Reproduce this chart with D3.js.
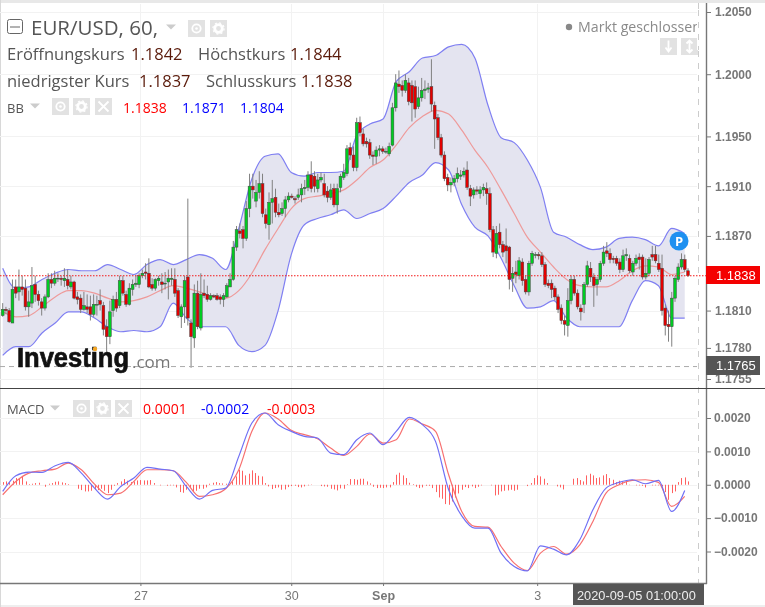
<!DOCTYPE html>
<html><head><meta charset="utf-8"><script src="https://cdn.jsdelivr.net/npm/d3@7"></script>
<style>html,body{margin:0;padding:0;background:#fff;overflow:hidden}svg{display:block;filter:blur(0.35px)}text{font-family:"Open Sans",sans-serif}.ax{font-family:"Liberation Sans",sans-serif;font-weight:700;fill:#777}</style></head>
<body><div id="c"></div><script>
const symbolTitle="EUR/USD, 60,";
const ohlcLabels=[["Eröffnungskurs","1.1842"],["Höchstkurs","1.1844"],["niedrigster Kurs","1.1837"],["Schlusskurs","1.1838"]];
const bbValues=["1.1838","1.1871","1.1804"];
const macdValues=["0.0001","-0.0002","-0.0003"];
const priceTicks=[1.2050,1.2000,1.1950,1.1910,1.1870,1.1810,1.1780,1.1755];
const macdTicks=[2,1,0,-1,-2];
const dateTicks=[[42,"27"],[88,"30"],[116,"Sep"],[163,"3"]];
const opens=[1.1806,1.1811,1.1810,1.1800,1.1829,1.1825,1.1829,1.1828,1.1813,1.1816,
1.1831,1.1823,1.1817,1.1812,1.1821,1.1835,1.1832,1.1836,1.1836,1.1834,
1.1835,1.1829,1.1833,1.1821,1.1820,1.1811,1.1813,1.1813,1.1807,1.1815,
1.1818,1.1814,1.1797,1.1789,1.1810,1.1819,1.1814,1.1834,1.1823,1.1815,
1.1827,1.1831,1.1831,1.1838,1.1841,1.1840,1.1831,1.1828,1.1834,1.1833,
1.1832,1.1833,1.1835,1.1835,1.1826,1.1805,1.1813,1.1837,1.1800,1.1788,
1.1824,1.1796,1.1824,1.1823,1.1819,1.1822,1.1822,1.1821,1.1819,1.1821,
1.1829,1.1835,1.1861,1.1874,1.1875,1.1868,1.1892,1.1910,1.1898,1.1905,
1.1912,1.1887,1.1879,1.1897,1.1901,1.1889,1.1888,1.1892,1.1899,1.1902,
1.1900,1.1901,1.1903,1.1908,1.1909,1.1919,1.1918,1.1908,1.1915,1.1912,
1.1906,1.1901,1.1908,1.1895,1.1909,1.1917,1.1920,1.1941,1.1935,1.1925,
1.1961,1.1952,1.1946,1.1945,1.1935,1.1934,1.1939,1.1940,1.1938,1.1936,
1.1943,1.1973,1.1992,1.1991,1.1987,1.1993,1.1991,1.1990,1.1974,1.1981,
1.1987,1.1988,1.1990,1.1975,1.1965,1.1949,1.1935,1.1917,1.1911,1.1913,
1.1916,1.1918,1.1919,1.1923,1.1908,1.1903,1.1907,1.1904,1.1907,1.1908,1.1904,
1.1875,1.1856,1.1873,1.1863,1.1862,1.1861,1.1836,1.1841,1.1838,1.1849,1.1835,
1.1825,1.1848,1.1855,1.1855,1.1854,1.1847,1.1832,1.1832,1.1828,1.1821,
1.1812,1.1802,1.1798,1.1818,1.1835,1.1824,1.1812,1.1815,1.1831,1.1844,
1.1837,1.1831,1.1835,1.1848,1.1858,1.1856,1.1852,1.1852,1.1849,1.1843,
1.1854,1.1852,1.1841,1.1848,1.1853,1.1853,1.1837,1.1840,1.1855,1.1855,
1.1848,1.1844,1.1812,1.1799,1.1797,1.1820,1.1835,1.1845,1.1851,1.1842];
const closes=[1.1811,1.1810,1.1801,1.1827,1.1824,1.1829,1.1827,1.1813,1.1817,1.1830,
1.1823,1.1818,1.1812,1.1821,1.1835,1.1832,1.1836,1.1836,1.1835,1.1836,
1.1830,1.1833,1.1820,1.1819,1.1811,1.1814,1.1811,1.1807,1.1815,1.1815,
1.1815,1.1795,1.1789,1.1809,1.1819,1.1812,1.1834,1.1824,1.1815,1.1828,
1.1831,1.1832,1.1838,1.1840,1.1840,1.1829,1.1828,1.1835,1.1836,1.1831,
1.1832,1.1836,1.1836,1.1824,1.1806,1.1813,1.1834,1.1804,1.1789,1.1824,
1.1797,1.1823,1.1822,1.1819,1.1822,1.1821,1.1819,1.1819,1.1822,1.1830,
1.1835,1.1861,1.1875,1.1872,1.1868,1.1892,1.1910,1.1907,1.1905,1.1912,
1.1888,1.1880,1.1897,1.1900,1.1889,1.1887,1.1892,1.1899,1.1902,1.1901,
1.1899,1.1903,1.1908,1.1909,1.1919,1.1908,1.1910,1.1915,1.1917,1.1903,
1.1901,1.1907,1.1895,1.1908,1.1918,1.1921,1.1940,1.1935,1.1925,1.1961,
1.1953,1.1944,1.1944,1.1935,1.1934,1.1939,1.1940,1.1938,1.1938,1.1942,
1.1973,1.1993,1.1990,1.1987,1.1995,1.1978,1.1977,1.1972,1.1981,1.1987,
1.1988,1.1989,1.1976,1.1964,1.1949,1.1935,1.1916,1.1911,1.1913,1.1916,
1.1920,1.1919,1.1922,1.1909,1.1902,1.1907,1.1906,1.1907,1.1909,1.1904,1.1875,
1.1857,1.1872,1.1863,1.1857,1.1858,1.1835,1.1840,1.1839,1.1850,1.1834,1.1825,
1.1848,1.1856,1.1855,1.1854,1.1847,1.1831,1.1830,1.1827,1.1821,1.1811,
1.1802,1.1799,1.1818,1.1835,1.1824,1.1813,1.1809,1.1831,1.1846,1.1837,
1.1830,1.1835,1.1848,1.1857,1.1856,1.1851,1.1851,1.1848,1.1843,1.1854,
1.1855,1.1842,1.1848,1.1852,1.1851,1.1837,1.1840,1.1851,1.1853,1.1850,
1.1843,1.1810,1.1798,1.1797,1.1820,1.1836,1.1845,1.1851,1.1843,1.1838];
const highs=[1.1816,1.1813,1.1812,1.1835,1.1835,1.1843,1.1838,1.1835,1.1826,1.1845,
1.1838,1.1826,1.1820,1.1823,1.1840,1.1840,1.1842,1.1840,1.1838,1.1844,
1.1843,1.1838,1.1834,1.1825,1.1823,1.1825,1.1823,1.1822,1.1823,1.1822,
1.1827,1.1817,1.1803,1.1818,1.1822,1.1825,1.1838,1.1838,1.1826,1.1832,
1.1835,1.1838,1.1840,1.1843,1.1848,1.1852,1.1836,1.1836,1.1838,1.1840,
1.1841,1.1843,1.1844,1.1844,1.1828,1.1815,1.1838,1.1900,1.1803,1.1831,
1.1834,1.1840,1.1835,1.1830,1.1824,1.1823,1.1824,1.1823,1.1824,1.1832,
1.1840,1.1866,1.1878,1.1880,1.1878,1.1898,1.1920,1.1920,1.1915,1.1922,
1.1920,1.1892,1.1905,1.1915,1.1908,1.1896,1.1897,1.1902,1.1905,1.1904,
1.1902,1.1908,1.1912,1.1915,1.1922,1.1930,1.1922,1.1920,1.1921,1.1920,
1.1910,1.1912,1.1912,1.1912,1.1920,1.1928,1.1943,1.1945,1.1942,1.1965,
1.1966,1.1956,1.1949,1.1948,1.1938,1.1942,1.1943,1.1942,1.1941,1.1945,
1.1977,1.2000,1.2003,1.1995,1.2000,1.1997,1.1995,1.1995,1.1990,1.1997,
1.1995,1.1993,1.2012,1.1978,1.1968,1.1952,1.1938,1.1920,1.1917,1.1919,
1.1925,1.1923,1.1925,1.1930,1.1911,1.1909,1.1910,1.1910,1.1912,1.1913,1.1909,
1.1878,1.1878,1.1880,1.1866,1.1876,1.1862,1.1845,1.1850,1.1853,1.1852,1.1838,
1.1850,1.1858,1.1857,1.1857,1.1857,1.1849,1.1835,1.1835,1.1830,1.1823,
1.1815,1.1806,1.1828,1.1838,1.1838,1.1827,1.1815,1.1833,1.1850,1.1849,
1.1840,1.1837,1.1850,1.1862,1.1865,1.1860,1.1854,1.1854,1.1852,1.1859,
1.1860,1.1855,1.1850,1.1855,1.1856,1.1855,1.1852,1.1853,1.1862,1.1862,
1.1855,1.1855,1.1815,1.1810,1.1825,1.1838,1.1848,1.1856,1.1855,1.1844];
const lows=[1.1805,1.1807,1.1800,1.1800,1.1820,1.1818,1.1822,1.1810,1.1805,1.1812,
1.1817,1.1814,1.1806,1.1810,1.1820,1.1828,1.1830,1.1833,1.1830,1.1829,
1.1827,1.1827,1.1819,1.1815,1.1808,1.1810,1.1808,1.1802,1.1805,1.1806,
1.1810,1.1790,1.1775,1.1783,1.1805,1.1809,1.1812,1.1822,1.1813,1.1814,
1.1822,1.1829,1.1828,1.1836,1.1835,1.1828,1.1826,1.1826,1.1830,1.1824,
1.1827,1.1819,1.1830,1.1821,1.1804,1.1796,1.1800,1.1798,1.1764,1.1780,
1.1795,1.1794,1.1820,1.1817,1.1818,1.1820,1.1818,1.1815,1.1813,1.1820,
1.1829,1.1834,1.1858,1.1868,1.1860,1.1866,1.1885,1.1900,1.1893,1.1900,
1.1885,1.1876,1.1867,1.1880,1.1885,1.1885,1.1886,1.1885,1.1897,1.1900,
1.1896,1.1899,1.1897,1.1903,1.1906,1.1905,1.1905,1.1905,1.1913,1.1901,
1.1897,1.1899,1.1893,1.1888,1.1905,1.1915,1.1918,1.1931,1.1922,1.1922,
1.1950,1.1942,1.1941,1.1932,1.1927,1.1928,1.1934,1.1936,1.1936,1.1934,
1.1942,1.1970,1.1985,1.1982,1.1985,1.1975,1.1962,1.1965,1.1972,1.1978,
1.1980,1.1985,1.1970,1.1940,1.1947,1.1933,1.1914,1.1906,1.1905,1.1910,
1.1913,1.1915,1.1917,1.1907,1.1894,1.1900,1.1903,1.1900,1.1902,1.1895,1.1873,
1.1853,1.1852,1.1860,1.1853,1.1848,1.1827,1.1825,1.1832,1.1835,1.1830,1.1823,
1.1822,1.1846,1.1852,1.1851,1.1845,1.1829,1.1828,1.1820,1.1818,1.1808,
1.1799,1.1790,1.1789,1.1815,1.1822,1.1811,1.1802,1.1808,1.1829,1.1833,
1.1813,1.1822,1.1833,1.1846,1.1853,1.1848,1.1848,1.1846,1.1840,1.1841,
1.1850,1.1840,1.1838,1.1846,1.1843,1.1835,1.1835,1.1838,1.1850,1.1848,
1.1841,1.1806,1.1790,1.1785,1.1781,1.1817,1.1833,1.1843,1.1841,1.1837];
// Bollinger bands and MACD lines, read every 4th slot of the 210-slot time grid
const bbUpper=[1.1844,1.1828,1.1829,1.1835,1.1840,1.1843,1.1842,1.1842,1.1847,1.1843,1.1839,1.1847,1.1851,1.1847,1.1851,1.1855,1.1852,1.1843,
1.1876,1.1916,1.1934,1.1936,1.1921,1.1918,1.1921,1.1921,1.1922,1.1951,1.1960,1.1964,1.1994,1.2002,1.2013,1.2015,1.2022,1.2024,1.2013,1.1975,
1.1949,1.1945,1.1931,1.1909,1.1873,1.1869,1.1863,1.1859,1.1861,1.1868,1.1869,1.1867,1.1862,1.1876,1.1872];
const bbLower=[1.1774,1.1781,1.1781,1.1792,1.1800,1.1809,1.1809,1.1804,1.1797,1.1793,1.1794,1.1793,1.1797,1.1816,1.1804,1.1797,1.1797,1.1797,
1.1782,1.1777,1.1782,1.1810,1.1855,1.1879,1.1884,1.1887,1.1891,1.1884,1.1888,1.1892,1.1902,1.1913,1.1919,1.1929,1.1923,1.1895,1.1877,1.1870,
1.1852,1.1830,1.1812,1.1813,1.1818,1.1804,1.1797,1.1797,1.1797,1.1797,1.1818,1.1834,1.1830,1.1804,1.1804];
const bbMiddle=[1.1809,1.1805,1.1806,1.1813,1.1821,1.1826,1.1826,1.1824,1.1820,1.1817,1.1818,1.1821,1.1826,1.1830,1.1828,1.1825,1.1821,1.1820,
1.1826,1.1840,1.1859,1.1876,1.1892,1.1900,1.1902,1.1904,1.1907,1.1915,1.1925,1.1931,1.1943,1.1957,1.1966,1.1971,1.1968,1.1955,1.1939,1.1925,
1.1907,1.1888,1.1869,1.1857,1.1845,1.1835,1.1830,1.1829,1.1829,1.1834,1.1842,1.1846,1.1845,1.1839,1.1841];
// MACD values in thousandths
const macdLine=[-0.20,0.27,0.38,0.37,0.57,0.67,0.35,-0.10,-0.43,-0.05,0.20,0.52,0.47,0.42,-0.05,-0.43,-0.17,-0.10,0.85,1.85,2.15,1.80,1.60,1.45,1.40,0.95,0.90,1.35,1.55,1.20,
1.60,2.02,1.80,1.30,-0.15,-0.93,-1.30,-1.30,-2.05,-2.45,-2.58,-1.83,-1.93,-2.10,-1.65,-0.75,-0.10,0.07,0.15,0.03,0.13,-0.80,-0.17];
const signalLine=[-0.30,0.10,0.35,0.42,0.47,0.65,0.45,0.02,-0.30,-0.25,0.10,0.45,0.45,0.42,0.07,-0.35,-0.30,-0.12,0.45,1.60,2.15,1.97,1.63,1.50,1.38,1.10,0.88,1.15,1.52,1.25,
1.35,1.97,1.82,1.60,0.30,-0.80,-1.25,-1.27,-1.85,-2.35,-2.57,-2.05,-1.85,-2.08,-1.80,-1.10,-0.25,0.00,0.13,0.15,0.07,-0.65,-0.35];
const macdHist=[.08,.10,.08,.12,.20,.18,.25,.10,.02,.03,
.05,.06,0,-.06,.03,.05,.09,.10,.07,.05,
.02,0,0,-.12,-.16,-.20,-.20,-.18,-.15,-.16,
-.12,-.18,-.25,-.15,-.03,.05,.10,.17,.12,.08,
.10,.13,.14,.13,.13,.14,.05,0,-.02,0,
-.03,-.02,-.02,-.08,-.22,-.24,-.15,-.08,-.22,-.18,
-.12,-.12,-.08,.03,.06,.08,.05,.04,.03,.02,
.10,.25,.45,.42,.28,.33,.43,.35,.27,.25,
.05,-.05,-.13,-.10,-.08,-.15,-.14,-.07,-.04,-.03,
-.07,-.08,-.05,-.02,.01,0,0,-.04,-.05,-.06,
-.12,-.14,-.17,-.11,-.12,.02,.17,.17,.15,.18,
.18,.10,.04,-.06,-.10,-.09,-.10,-.08,-.08,.08,
.30,.36,.28,.20,.06,.02,-.06,-.10,-.08,-.03,
-.03,-.10,-.22,-.38,-.42,-.58,-.60,-.50,-.38,-.26,
-.15,-.07,-.10,-.05,-.10,-.06,-.02,0,0,-.02,
-.32,-.30,-.20,-.18,-.17,-.15,-.18,-.15,0,0,
-.04,.05,.20,.28,.25,.18,.05,0,0,-.05,
-.08,-.14,0,0,.18,.20,.14,.10,.28,.33,
.28,.20,.22,.28,.32,.20,.15,.08,.12,.08,
.10,-.01,0,-.02,-.02,-.03,-.08,0,-.02,-.02,
-.02,-.05,-.22,-.45,-.25,-.20,.08,.20,.22,.10];

const W=765,H=607,plotRight=697,axisX=706;
const svg=d3.select("#c").append("svg").attr("width",W).attr("height",H);
const defs=svg.append("defs");
defs.append("clipPath").attr("id","p").append("rect").attr("x",0).attr("y",4).attr("width",plotRight).attr("height",384);
defs.append("clipPath").attr("id","m").append("rect").attr("x",0).attr("y",389).attr("width",plotRight).attr("height",194);
const x=d3.scaleLinear().domain([0,opens.length-1]).range([2.7,688]);
const xs=d3.scaleLinear().domain([0,macdHist.length-1]).range([2.7,688]);
const yP=d3.scaleLinear().domain([1.2050,1.1755]).range([12,379]);
const yM=d3.scaleLinear().domain([2,-2]).range([418,551.5]);
const sampleIdx=d3.range(0,bbUpper.length).map(i=>i*4);
const sx=i=>xs(sampleIdx[i]);

// frame
svg.append("rect").attr("width",W).attr("height",H).attr("fill","#fff");
svg.append("rect").attr("width",W).attr("height",3).attr("fill","#e8e8e8");
svg.append("rect").attr("y",605).attr("width",W).attr("height",2).attr("fill","#eeeeee");
svg.append("rect").attr("width",1).attr("height",H).attr("fill","#d8d8d8");

// grid
const grid=svg.append("g").attr("stroke","#f2f2f2").attr("stroke-width",1);
grid.selectAll("line.h").data(priceTicks).join("line").attr("x1",0).attr("x2",plotRight).attr("y1",d=>Math.round(yP(d))+.5).attr("y2",d=>Math.round(yP(d))+.5);
grid.selectAll("line.m").data(macdTicks).join("line").attr("class","m").attr("x1",0).attr("x2",plotRight).attr("y1",d=>Math.round(yM(d))+.5).attr("y2",d=>Math.round(yM(d))+.5);
grid.selectAll("line.v").data(dateTicks).join("line").attr("class","v").attr("x1",d=>Math.round(xs(d[0]))+.5).attr("x2",d=>Math.round(xs(d[0]))+.5).attr("y1",4).attr("y2",583);

// Bollinger
const pg=svg.append("g").attr("clip-path","url(#p)");
pg.append("path").datum(d3.range(bbUpper.length)).attr("fill","#e4e4f0").attr("d",d3.area().x(sx).y0(i=>yP(bbLower[i])).y1(i=>yP(bbUpper[i])).curve(d3.curveMonotoneX));
const bbLine=a=>d3.line().x(sx).y(i=>yP(a[i])).curve(d3.curveMonotoneX)(d3.range(a.length));
pg.append("path").attr("d",bbLine(bbUpper)).attr("fill","none").attr("stroke","#7f7ff2").attr("stroke-width",1.2);
pg.append("path").attr("d",bbLine(bbLower)).attr("fill","none").attr("stroke","#7f7ff2").attr("stroke-width",1.2);
pg.append("path").attr("d",bbLine(bbMiddle)).attr("fill","none").attr("stroke","#ee9a9a").attr("stroke-width",1.2);

// last price lines
svg.append("line").attr("x1",0).attr("x2",plotRight+9).attr("y1",yP(1.1838)).attr("y2",yP(1.1838)).attr("stroke","#f41818").attr("stroke-width",1.2).attr("stroke-dasharray","1.5 1.5");
svg.append("line").attr("x1",0).attr("x2",plotRight).attr("y1",yP(1.1765)).attr("y2",yP(1.1765)).attr("stroke","#aaa").attr("stroke-dasharray","5 4");

// candles
const candles=pg.selectAll("g.c").data(d3.range(opens.length)).join("g");
candles.append("line").attr("x1",i=>x(i)).attr("x2",i=>x(i)).attr("y1",i=>yP(highs[i])).attr("y2",i=>yP(lows[i])).attr("stroke","#808080").attr("stroke-width",1);
candles.append("rect").attr("x",i=>x(i)-1.4).attr("width",2.8)
 .attr("y",i=>yP(Math.max(opens[i],closes[i]))).attr("height",i=>Math.max(.8,Math.abs(yP(opens[i])-yP(closes[i]))))
 .attr("fill",i=>closes[i]>=opens[i]?"#00cc22":"#e20000").attr("stroke","#444").attr("stroke-width",.5);

// MACD
const mg=svg.append("g").attr("clip-path","url(#m)");
mg.selectAll("line").data(macdHist).join("line").attr("x1",(d,i)=>Math.round(xs(i))+.5).attr("x2",(d,i)=>Math.round(xs(i))+.5).attr("y1",yM(0)).attr("y2",d=>yM(d)).attr("stroke","#ff6060").attr("stroke-width",1);
const mLine=a=>d3.line().x(sx).y(i=>yM(a[i])).curve(d3.curveMonotoneX)(d3.range(a.length));
mg.append("path").attr("d",mLine(signalLine)).attr("fill","none").attr("stroke","#f77070").attr("stroke-width",1.2);
mg.append("path").attr("d",mLine(macdLine)).attr("fill","none").attr("stroke","#7070f5").attr("stroke-width",1.2);

// logo
const logo=svg.append("g");
logo.append("text").attr("x",17).attr("y",367).attr("font-size",27).attr("font-weight",800).attr("fill","#111").attr("stroke","#111").attr("stroke-width",.7).attr("textLength",112).attr("lengthAdjust","spacingAndGlyphs").style("font-family","'Liberation Sans',sans-serif").text("Investing");
logo.append("text").attr("x",132).attr("y",368).attr("font-size",17).attr("fill","#777").text(".com");
logo.append("circle").attr("cx",95).attr("cy",349).attr("r",2.2).attr("fill","#f5a623");

// axes
svg.append("line").attr("x1",axisX+.5).attr("x2",axisX+.5).attr("y1",3).attr("y2",584).attr("stroke","#777").attr("stroke-width",1.4);
svg.append("line").attr("x1",698.5).attr("x2",698.5).attr("y1",3).attr("y2",590).attr("stroke","#ccc").attr("stroke-dasharray","6 6");
svg.append("line").attr("x1",0).attr("x2",W).attr("y1",388.5).attr("y2",388.5).attr("stroke","#444");
svg.append("line").attr("x1",0).attr("x2",axisX+1).attr("y1",583.5).attr("y2",583.5).attr("stroke","#777").attr("stroke-width",1.4);
const styleAxis=g=>{g.select(".domain").remove();g.selectAll("line").attr("stroke","#777");g.selectAll("text").attr("class","ax").attr("font-size",12).attr("fill","#777").style("font-family","'Liberation Sans',sans-serif").style("font-weight",700);};
svg.append("g").attr("transform",`translate(${axisX},0)`).call(d3.axisRight(yP).tickValues(priceTicks).tickSize(5).tickPadding(4).tickFormat(d3.format(".4f"))).call(styleAxis);
svg.append("g").attr("transform",`translate(${axisX},0)`).call(d3.axisRight(yM).tickValues(macdTicks).tickSize(5).tickPadding(3).tickFormat(d=>d3.format(".4f")(d/1000))).call(styleAxis);
const xa=svg.append("g").attr("transform","translate(0,583)").call(d3.axisBottom(xs).tickValues(dateTicks.map(d=>d[0])).tickSize(3).tickPadding(5).tickFormat(d=>dateTicks.find(t=>t[0]===d)[1])).call(styleAxis);
xa.selectAll("text").attr("font-size",12.5).style("font-weight",d=>d===116?700:400);

// price tags
svg.append("rect").attr("x",706).attr("y",266).attr("width",54).attr("height",18).attr("fill","#f40000");
svg.append("text").attr("x",716).attr("y",280).attr("font-size",13).attr("fill","#fff").style("font-family","'Liberation Sans',sans-serif").text("1.1838");
svg.append("rect").attr("x",706).attr("y",356).attr("width",54).attr("height",19).attr("fill","#555");
svg.append("text").attr("x",716).attr("y",370).attr("font-size",13).attr("fill","#fff").style("font-family","'Liberation Sans',sans-serif").text("1.1765");
svg.append("rect").attr("x",573).attr("y",584).attr("width",131).attr("height",21).attr("fill","#555");
svg.append("text").attr("x",577).attr("y",600).attr("font-size",12.8).attr("fill","#eee").style("font-family","'Liberation Sans',sans-serif").text("2020-09-05 01:00:00");

// marker
svg.append("circle").attr("cx",679).attr("cy",241).attr("r",9.5).attr("fill","#1e90f0");
svg.append("text").attr("x",679).attr("y",246).attr("text-anchor","middle").attr("font-size",13).attr("font-weight",700).attr("fill","#fff").text("P");

// legend helpers
const box=(bx,by,kind)=>{
 svg.append("rect").attr("x",bx).attr("y",by).attr("width",17).attr("height",17).attr("fill","#e2e2e2");
 const cx=bx+8.5,cy=by+8.5;
 if(kind==="eye"){svg.append("circle").attr("cx",cx).attr("cy",cy).attr("r",4.2).attr("fill","none").attr("stroke","#fff").attr("stroke-width",1.8);svg.append("circle").attr("cx",cx).attr("cy",cy).attr("r",1.3).attr("fill","#fff");}
 if(kind==="gear"){svg.append("circle").attr("cx",cx).attr("cy",cy).attr("r",3.8).attr("fill","none").attr("stroke","#fff").attr("stroke-width",2.8);svg.append("circle").attr("cx",cx).attr("cy",cy).attr("r",5.6).attr("fill","none").attr("stroke","#fff").attr("stroke-width",1.2).attr("stroke-dasharray","2 2.4");}
 if(kind==="x"){svg.append("path").attr("d",`M${cx-5} ${cy-5}L${cx+5} ${cy+5}M${cx+5} ${cy-5}L${cx-5} ${cy+5}`).attr("stroke","#fff").attr("stroke-width",1.8);}
 if(kind==="down"){svg.append("path").attr("d",`M${cx} ${cy-6}V${cy+4}M${cx-3} ${cy+1}L${cx} ${cy+5}L${cx+3} ${cy+1}`).attr("stroke","#fff").attr("fill","none").attr("stroke-width",1.8);}
 if(kind==="updown"){svg.append("path").attr("d",`M${cx} ${cy-6}V${cy+6}M${cx-3} ${cy-3}L${cx} ${cy-6}L${cx+3} ${cy-3}M${cx-3} ${cy+3}L${cx} ${cy+6}L${cx+3} ${cy+3}`).attr("stroke","#fff").attr("fill","none").attr("stroke-width",1.8);}
};
const caret=(cx,cy)=>svg.append("path").attr("d",`M${cx-5} ${cy-2.5}L${cx+5} ${cy-2.5}L${cx} ${cy+2.5}Z`).attr("fill","#ccc");
const label=(tx,ty,s,fs,col)=>svg.append("text").attr("x",tx).attr("y",ty).attr("font-size",fs).attr("fill",col).text(s);

// title
svg.append("rect").attr("x",7.5).attr("y",19.5).attr("width",15).attr("height",14).attr("rx",2).attr("fill","#fff").attr("stroke","#666");
svg.append("line").attr("x1",10).attr("x2",20).attr("y1",27).attr("y2",27).attr("stroke","#666");
label(31,35,symbolTitle,20.5,"#555");
caret(171,27);box(188,20,"eye");box(210,20,"gear");
const ohlcPos=[[7,131,60],[198,290,60],[7,139,87],[206,301,87]];
ohlcLabels.forEach((d,i)=>{label(ohlcPos[i][0],ohlcPos[i][2],d[0],16.5,"#555");label(ohlcPos[i][1],ohlcPos[i][2],d[1],16.5,"#5a1a0a");});
// BB row
label(7,113,"BB",13,"#555");caret(35,106);box(52,98,"eye");box(73,98,"gear");box(95,98,"x");
[[123,"#ff0000"],[182,"#0000ff"],[240,"#0000ff"]].forEach((d,i)=>label(d[0],113,bbValues[i],14,d[1]));
// MACD row
label(7,414,"MACD",13,"#555");caret(55,408);box(73,400,"eye");box(94,400,"gear");box(115,400,"x");
[[143,"#ff0000"],[201,"#0000ff"],[267,"#ff0000"]].forEach((d,i)=>label(d[0],414,macdValues[i],14,d[1]));
// status
svg.append("circle").attr("cx",569).attr("cy",27).attr("r",3.2).attr("fill","#888");
label(578,32,"Markt geschlossen",14.2,"#8a8a8a");
box(660,38,"down");box(681,38,"updown");
svg.append("rect").attr("x",697).attr("y",10).attr("width",8).attr("height",40).attr("fill","#fff");
svg.append("line").attr("x1",698.5).attr("x2",698.5).attr("y1",10).attr("y2",50).attr("stroke","#ccc").attr("stroke-dasharray","6 6");
</script></body></html>
